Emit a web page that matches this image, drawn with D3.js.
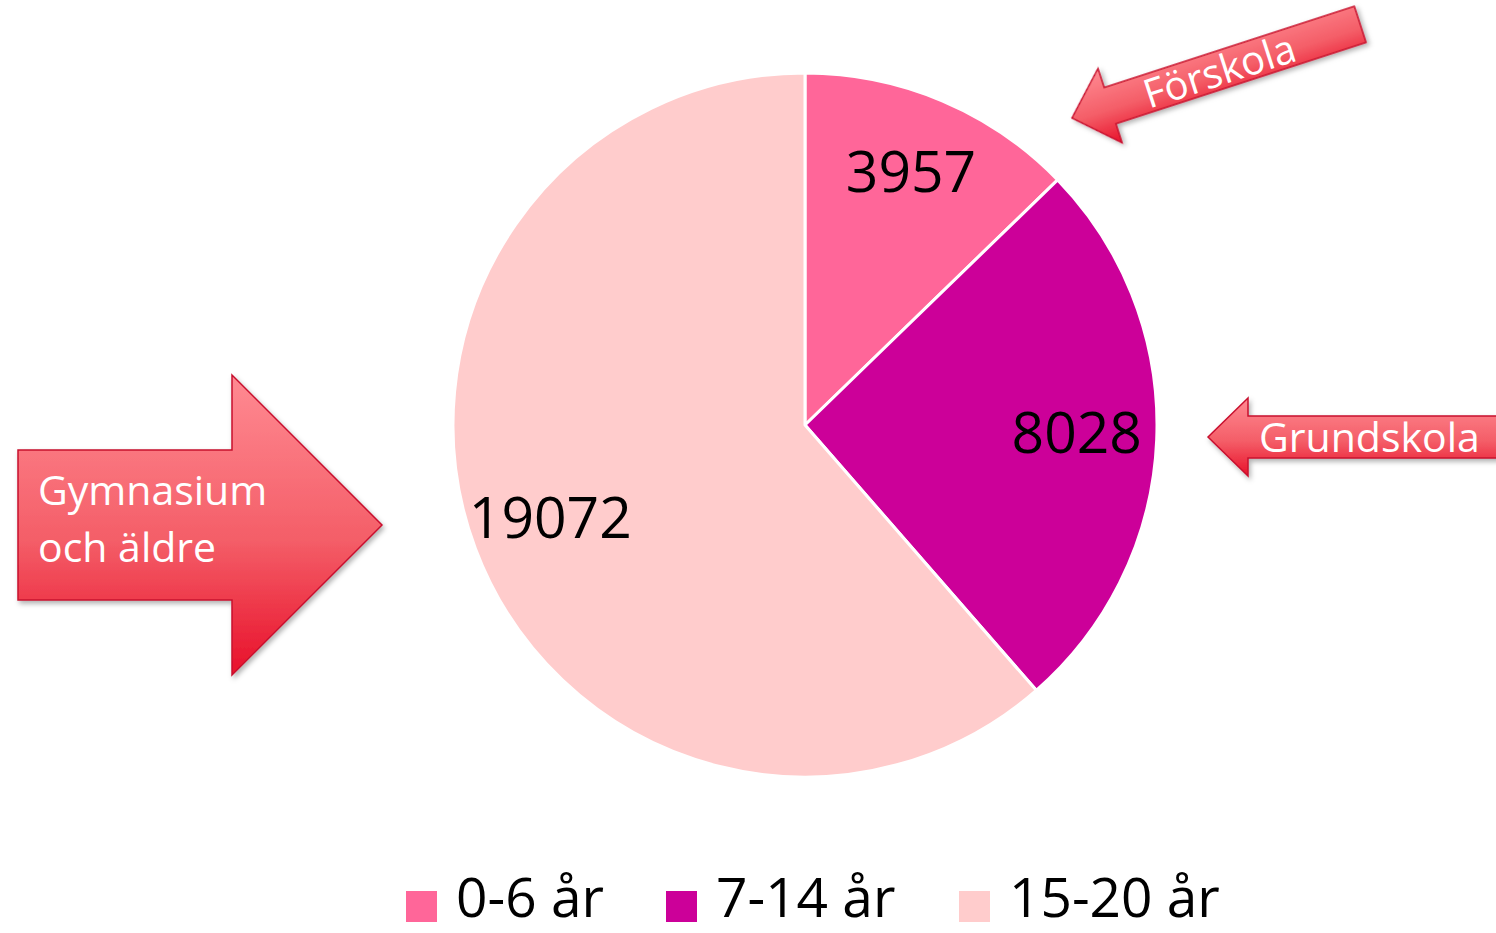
<!DOCTYPE html>
<html>
<head>
<meta charset="utf-8">
<script src="https://cdn.jsdelivr.net/npm/d3@7"></script>
<style>
  body { margin: 0; background: #fff; }
  svg { display: block; font-family: "Open Sans", sans-serif; }
</style>
</head>
<body>
<div id="chart"></div>
<script>
// data
const categories = ["0-6 år", "7-14 år", "15-20 år"];
const values = [3957, 8028, 19072];
const colors = ["#FF6699", "#CC0099", "#FFCCCC"];

// arrow call-outs
const calloutLabels = ["Förskola", "Grundskola", "Gymnasium och äldre"];

const W = 1496, H = 933;
const cx = 805, cy = 425, R = 352;

const svg = d3.select("#chart").append("svg")
    .attr("width", W)
    .attr("height", H);

const defs = svg.append("defs");

// gradient for arrows (top light -> bottom red)
const grad = defs.append("linearGradient")
    .attr("id", "arrowGrad")
    .attr("x1", 0).attr("y1", 0).attr("x2", 0).attr("y2", 1);
grad.append("stop").attr("offset", "0%").attr("stop-color", "#FF8A92");
grad.append("stop").attr("offset", "55%").attr("stop-color", "#F45E68");
grad.append("stop").attr("offset", "100%").attr("stop-color", "#E8102A");

const shadow = defs.append("filter")
    .attr("id", "shadow")
    .attr("x", "-10%").attr("y", "-10%").attr("width", "130%").attr("height", "140%");
shadow.append("feDropShadow")
    .attr("dx", 2).attr("dy", 3)
    .attr("stdDeviation", 2.5)
    .attr("flood-color", "#000")
    .attr("flood-opacity", 0.3);

/*#### Pie ####*/
const pie = d3.pie().sort(null).value(d => d);
const arcs = pie(values);

const arc = d3.arc().innerRadius(0).outerRadius(R);
const labelArc = d3.arc().innerRadius(272).outerRadius(272);

const g = svg.append("g").attr("transform", `translate(${cx},${cy})`);

g.selectAll("path")
    .data(arcs)
    .join("path")
    .attr("d", arc)
    .attr("fill", (d, i) => colors[i])
    .attr("stroke", "#fff")
    .attr("stroke-width", 3)
    .attr("stroke-linejoin", "round");

g.selectAll("text.val")
    .data(arcs)
    .join("text")
    .attr("class", "val")
    .attr("transform", d => `translate(${labelArc.centroid(d)})`)
    .attr("text-anchor", "middle")
    .attr("dy", "0.3em")
    .attr("font-size", 57)
    .attr("fill", "#000")
    .text(d => d.data);

/*#### Legend ####*/
const legendX = [406, 666, 959];
const legend = svg.append("g");
const item = legend.selectAll("g")
    .data(categories)
    .join("g")
    .attr("transform", (d, i) => `translate(${legendX[i]},891)`);
item.append("rect")
    .attr("width", 31).attr("height", 31)
    .attr("fill", (d, i) => colors[i]);
item.append("text")
    .attr("x", 50)
    .attr("y", 26)
    .attr("font-size", 55)
    .attr("fill", "#000")
    .text(d => d);

/*#### Arrows ####*/
// left-pointing arrow with tip at (0,0): head length hl, head half-width hw, body half-width bw, total length L
function leftArrow(hl, hw, bw, L) {
    return `M0,0 L${hl},${-hw} L${hl},${-bw} L${L},${-bw} L${L},${bw} L${hl},${bw} L${hl},${hw} Z`;
}

// Förskola (rotated)
const a1 = svg.append("g")
    .attr("transform", "translate(1072,118) rotate(-18)");
a1.append("path")
    .attr("d", leftArrow(40, 39, 19, 303))
    .attr("fill", "url(#arrowGrad)")
    .attr("stroke", "#C8102E")
    .attr("stroke-width", 1.5)
    .attr("filter", "url(#shadow)");
a1.append("text")
    .attr("x", 76).attr("y", 15)
    .attr("font-size", 40)
    .attr("fill", "#fff")
    .text(calloutLabels[0]);

// Grundskola
const a2 = svg.append("g")
    .attr("transform", "translate(1208,437)");
a2.append("path")
    .attr("d", leftArrow(40, 39, 21, 300))
    .attr("fill", "url(#arrowGrad)")
    .attr("stroke", "#C8102E")
    .attr("stroke-width", 1.5)
    .attr("filter", "url(#shadow)");
a2.append("text")
    .attr("x", 51).attr("y", 15)
    .attr("font-size", 41)
    .attr("fill", "#fff")
    .text(calloutLabels[1]);

// Gymnasium och äldre (pointing right)
const a3 = svg.append("g");
a3.append("path")
    .attr("d", "M18,450 L232,450 L232,375 L382,525 L232,675 L232,600 L18,600 Z")
    .attr("fill", "url(#arrowGrad)")
    .attr("stroke", "#C8102E")
    .attr("stroke-width", 1.5)
    .attr("filter", "url(#shadow)");
const t3 = a3.append("text")
    .attr("font-size", 41)
    .attr("fill", "#fff");
t3.append("tspan").attr("x", 38).attr("y", 505).text("Gymnasium");
t3.append("tspan").attr("x", 38).attr("y", 562).text("och äldre");
</script>
</body>
</html>
